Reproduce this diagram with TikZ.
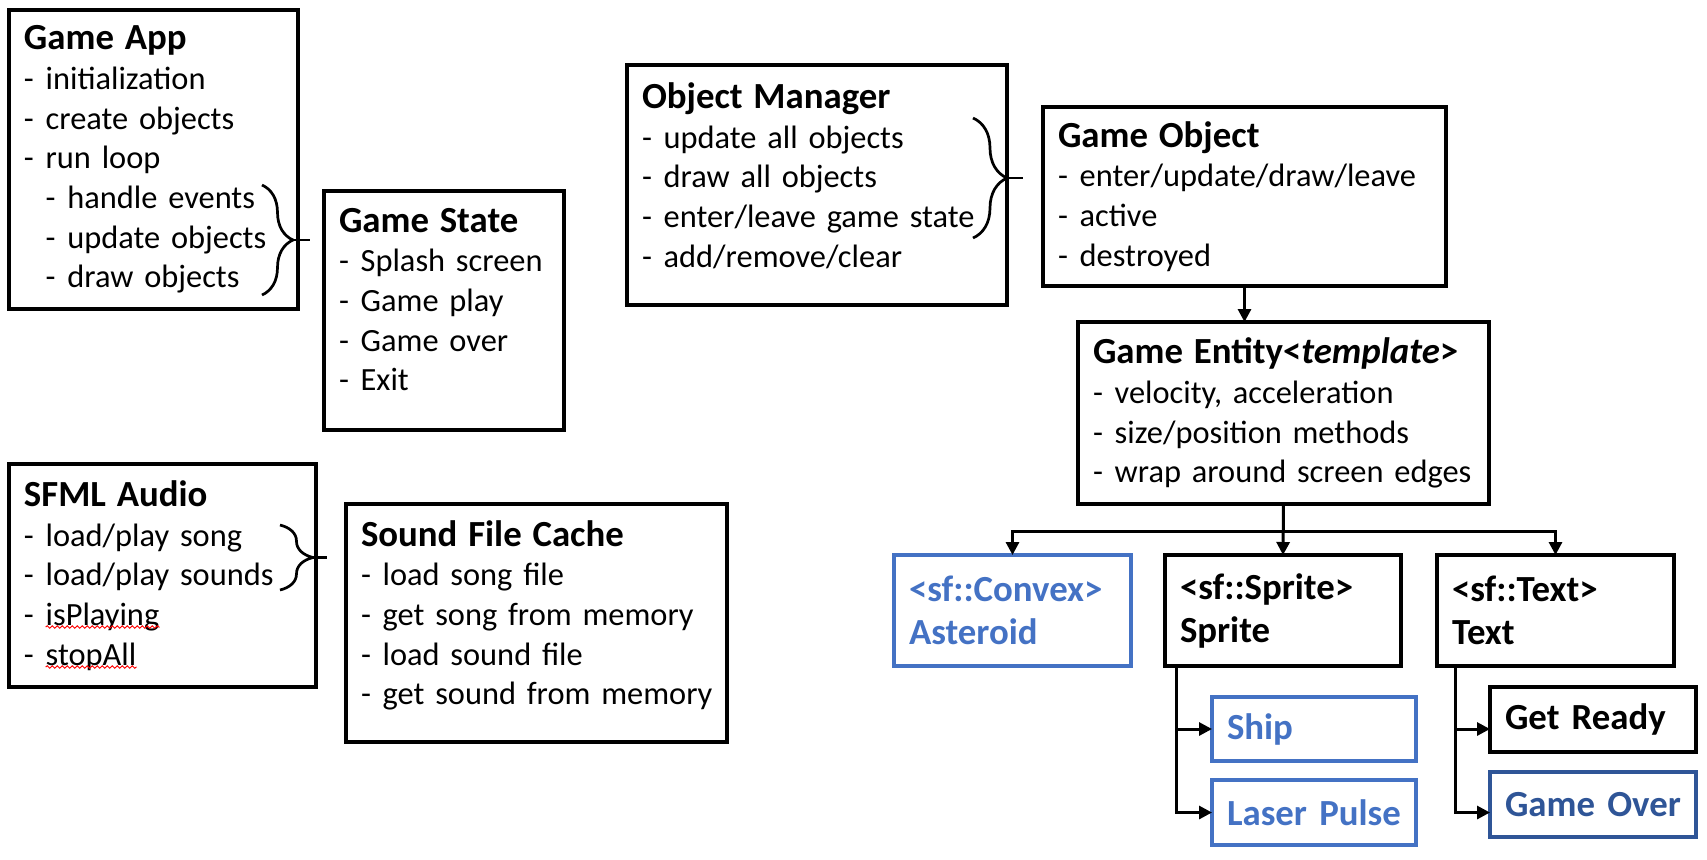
\documentclass[tikz,border=0pt]{standalone}
\usepackage{fontspec}
\setmainfont{Carlito}
\usepackage{tikz}
\usetikzlibrary{arrows.meta,positioning,decorations.pathreplacing,decorations.pathmorphing}
\definecolor{objblue}{HTML}{4472C4}
\definecolor{overblue}{HTML}{2F5597}
\newcommand{\hd}[1]{\mbox{\fontsize{18.4}{19.85}\selectfont\bfseries #1}}
\newcommand{\itm}[1]{\mbox{\makebox[10.85pt][l]{-}#1}}
\newcommand{\subitm}[1]{\mbox{\hspace{10.85pt}\makebox[10.85pt][l]{-}#1}}
\newcommand{\lift}[1]{\rule[-#1]{0pt}{#1}}

\begin{document}
\begin{tikzpicture}[x=0.5pt,y=-0.5pt,
  box/.style={draw,line width=1.6pt,anchor=north west,outer sep=0pt,inner xsep=7.5pt,inner ysep=0pt,align=left,font=\fontsize{16.2}{19.85}\selectfont},
  cls/.style={draw,line width=1.6pt,anchor=north west,outer sep=0pt,inner xsep=7.5pt,inner ysep=0pt,align=left,font=\fontsize{18.4}{21.5}\selectfont\bfseries},
  arr/.style={line width=1.5pt,-{Triangle[length=6.5pt,width=6.5pt]}},
  brc/.style={line width=1.35pt,decorate},
  tick/.style={line width=1.35pt},
  squig/.style={red,line width=0.5pt,decorate,decoration={snake,amplitude=0.6pt,segment length=2.5pt}}]
\useasboundingbox (0,0) rectangle (1707,859);

% left column
\node[box,text width=129.5pt,minimum height=149.5pt] (app) at (9,10) {\hd{Game App}\\ \itm{initialization}\\ \itm{create objects}\\ \itm{run loop}\\ \subitm{handle events}\\ \subitm{update objects}\\ \subitm{draw objects}};
\node[box,text width=105pt,minimum height=119.5pt] (state) at (324,191) {\hd{Game State}\\ \itm{Splash screen}\\ \itm{Game play}\\ \itm{Game over}\\ \itm{Exit}\lift{11pt}};
\node[box,text width=138.5pt,minimum height=111.5pt] (audio) at (9,464) {\hd{SFML Audio}\\ \itm{load/play song}\\ \itm{load/play sounds}\\ \itm{isPlaying}\\ \itm{stopAll}};
\node[box,text width=175.5pt,minimum height=119pt] (cache) at (346,504) {\hd{Sound File Cache}\\ \itm{load song file}\\ \itm{get song from memory}\\ \itm{load sound file}\\ \itm{get sound from memory}\lift{10.5pt}};

% objects
\node[box,text width=175pt,minimum height=120pt] (mgr) at (627,65) {\hd{Object Manager}\\ \itm{update all objects}\\ \itm{draw all objects}\\ \itm{enter/leave game state}\\ \itm{add/remove/clear}\lift{10pt}};
\node[box,text width=186.5pt,minimum height=89.5pt] (obj) at (1043,107) {\hd{Game Object}\\ \itm{enter/update/draw/leave}\\ \itm{active}\\ \itm{destroyed}};
\node[box,text width=190.5pt,minimum height=91pt] (ent) at (1078,322) {\hd{Game Entity<\textit{template}>}\\ \itm{velocity, acceleration}\\ \itm{size/position methods}\\ \itm{wrap around screen edges}};

% entity types
\node[cls,draw=objblue,text=objblue,text width=103.5pt,minimum height=55.5pt] (ast) at (894,555) {<sf::Convex>\\ Asteroid};
\node[cls,text width=103pt,minimum height=55.5pt,right=17pt of ast] (spr) {<sf::Sprite>\\ Sprite};
\node[cls,text width=103.5pt,minimum height=55.5pt,right=18pt of spr] (txt) {<sf::Text>\\ Text};
\node[cls,draw=objblue,text=objblue,text width=87pt,minimum height=32pt] (ship) at (1212,697) {Ship};
\node[cls,draw=objblue,text=objblue,text width=87pt,minimum height=32.5pt,below=9.5pt of ship] (laser) {Laser Pulse};
\node[cls,text width=88pt,minimum height=32.5pt] (ready) at (1490,687) {Get Ready};
\node[cls,draw=overblue,text=overblue,text width=88pt,minimum height=32.5pt,below=10pt of ready] (over) {Game Over};

% braces
\draw[brc,decoration={brace,amplitude=15.5pt,aspect=0.5}] (262,185) -- (262,295);
\coordinate (appbr) at (293,240);
\draw[tick] (appbr) -- ++(17,0);
\draw[brc,decoration={brace,amplitude=16.5pt,aspect=0.5}] (280,525) -- (280,590);
\coordinate (audiobr) at (313,557.5);
\draw[tick] (audiobr) -- ++(14,0);
\draw[brc,decoration={brace,amplitude=17pt,aspect=0.5}] (973,118) -- (973,238);
\coordinate (mgrbr) at (1007,178);
\draw[tick] (mgrbr) -- ++(16,0);

% spelling marks
\draw[squig] ([shift={(36.7,163)}]audio.north west) -- ++(114,0);
\draw[squig] ([shift={(36.7,203)}]audio.north west) -- ++(91,0);

% arrows
\draw[arr] (obj.south) -- (obj.south |- ent.north);
\draw[arr] (ent.south) -- (spr.north);
\coordinate (bus) at ([yshift=-13.5pt]ent.south);
\draw[arr] (bus) -| (ast.north);
\draw[arr] (bus) -| (txt.north);
\draw[arr] ([xshift=5.5pt]spr.south west) |- (ship.west);
\draw[arr] ([xshift=5.5pt]spr.south west) |- (laser.west);
\draw[arr] ([xshift=9.25pt]txt.south west) |- (ready.west |- ship.west);
\draw[arr] ([xshift=9.25pt]txt.south west) |- (over.west |- laser.west);
\end{tikzpicture}
\end{document}
